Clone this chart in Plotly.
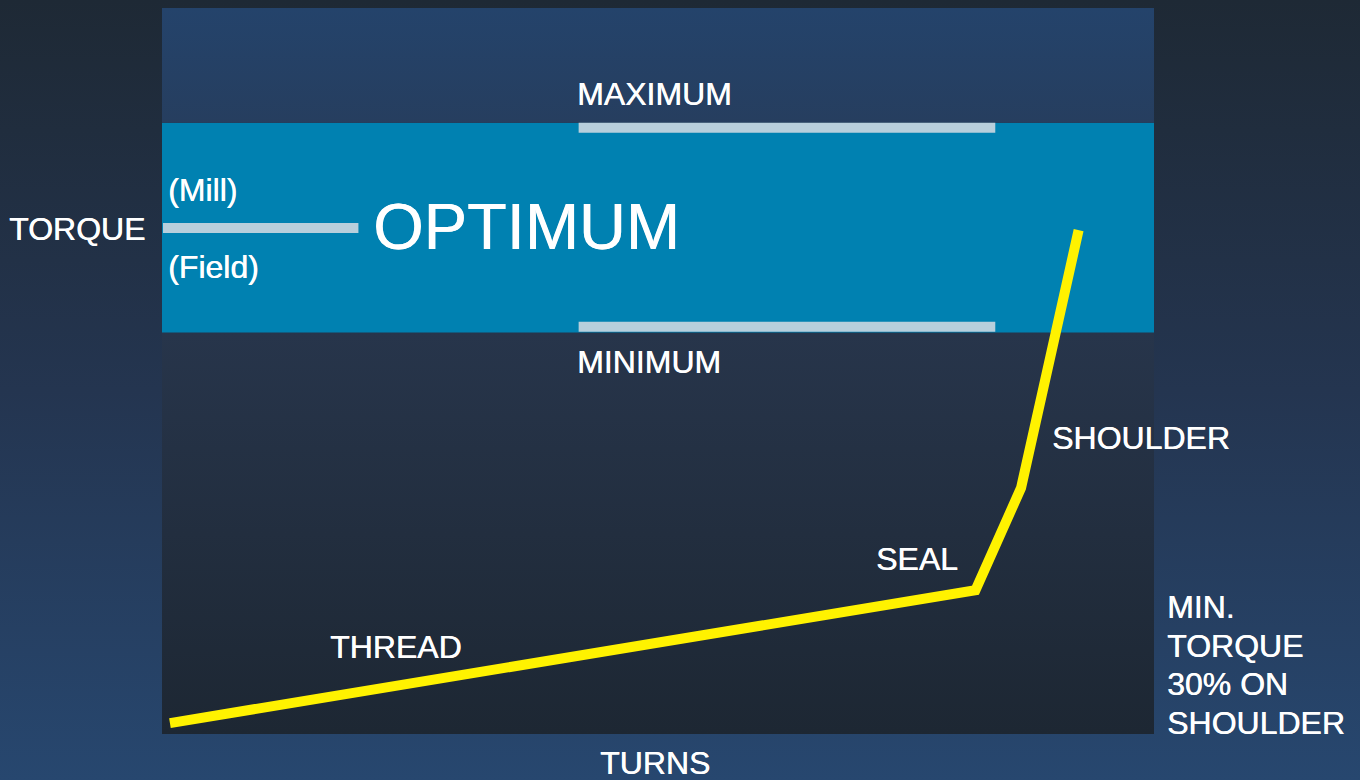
import plotly.graph_objects as go

# ---------------- data ----------------
# make-up curve (turns vs torque, both on a 0-100 scale)
turns = [0.8, 82.0, 86.6, 92.4]
torque = [1.5, 19.8, 33.9, 69.4]

# torque band limits
band_min = 55.3
band_max = 84.2
maximum_level = 83.5
minimum_level = 56.1
limit_turns = [42.0, 84.0]
field_torque = 69.7
field_turns = [0.1, 19.8]

labels_curve = ["THREAD", "SEAL", "SHOULDER"]
note_lines = ["MIN.", "TORQUE", "30% ON", "SHOULDER"]

# ---------------- layout helpers ----------------
W, H = 1360, 780
PLOT_L, PLOT_R, PLOT_T, PLOT_B = 162, 1154, 8, 734
FONT = "Liberation Sans, Arial, Helvetica, sans-serif"
SHADOW = "0.45px 0 0 #ffffff"


def px(x, y):
    return x / W, 1 - y / H


fig = go.Figure()

# page background gradient (full paper subplot)
fig.add_trace(go.Scatter(
    x=[0, 1, 1, 0, 0], y=[0, 0, 1, 1, 0], xaxis="x", yaxis="y",
    mode="lines", fill="toself", line=dict(width=0),
    fillgradient=dict(type="vertical",
                      colorscale=[[0, "#27476f"], [0.5, "#243550"], [1, "#1e2935"]]),
    hoverinfo="skip", showlegend=False))

# lower zone
fig.add_trace(go.Scatter(
    x=[0, 100, 100, 0, 0], y=[0, 0, band_min, band_min, 0], xaxis="x2", yaxis="y2",
    mode="lines", fill="toself", line=dict(width=0),
    fillgradient=dict(type="vertical",
                      colorscale=[[0, "#1d2733"], [1, "#27354b"]]),
    hoverinfo="skip", showlegend=False))

# optimum zone
fig.add_trace(go.Scatter(
    x=[0, 100, 100, 0, 0], y=[band_min, band_min, band_max, band_max, band_min],
    xaxis="x2", yaxis="y2",
    mode="lines", fill="toself", fillcolor="#0081b1", line=dict(width=0),
    hoverinfo="skip", showlegend=False))

# upper zone
fig.add_trace(go.Scatter(
    x=[0, 100, 100, 0, 0], y=[band_max, band_max, 100, 100, band_max],
    xaxis="x2", yaxis="y2",
    mode="lines", fill="toself", line=dict(width=0),
    fillgradient=dict(type="vertical",
                      colorscale=[[0, "#263e5f"], [1, "#24436b"]]),
    hoverinfo="skip", showlegend=False))

# limit lines
grey = "#b8cfdc"
fig.add_trace(go.Scatter(x=limit_turns, y=[maximum_level] * 2, xaxis="x2", yaxis="y2",
                         mode="lines", line=dict(color=grey, width=10),
                         hoverinfo="skip", showlegend=False))
fig.add_trace(go.Scatter(x=limit_turns, y=[minimum_level] * 2, xaxis="x2", yaxis="y2",
                         mode="lines", line=dict(color=grey, width=10),
                         hoverinfo="skip", showlegend=False))
fig.add_trace(go.Scatter(x=field_turns, y=[field_torque] * 2, xaxis="x2", yaxis="y2",
                         mode="lines", line=dict(color=grey, width=10),
                         hoverinfo="skip", showlegend=False))

# make-up curve
fig.add_trace(go.Scatter(x=turns, y=torque, xaxis="x2", yaxis="y2",
                         mode="lines", line=dict(color="#fff200", width=10),
                         hoverinfo="skip", showlegend=False))

# ---------------- annotations ----------------
def label(text, x, y, size=32, anchor="left"):
    ax, ay = px(x, y)
    fig.add_annotation(text=text, x=ax, y=ay, xref="paper", yref="paper",
                       xanchor=anchor, yanchor="middle", showarrow=False,
                       align="left",
                       font=dict(family=FONT, size=size, color="white", shadow=SHADOW))


label("MAXIMUM", 575, 94)
label("MINIMUM", 575, 362)
label("(Mill)", 166, 190)
label("(Field)", 166, 267)
label("TORQUE", 147, 229, anchor="right")
label("OPTIMUM", 371, 226, size=65)
label(labels_curve[0], 328, 647)
label(labels_curve[1], 874, 559)
label(labels_curve[2], 1050, 438)
label("TURNS", 598, 763)
for i, line in enumerate(note_lines):
    label(line, 1165, 607 + i * 38.5)

dom_x = [PLOT_L / W, PLOT_R / W]
dom_y = [1 - PLOT_B / H, 1 - PLOT_T / H]
hidden = dict(visible=False, fixedrange=True, showgrid=False, zeroline=False)

fig.update_layout(
    width=W, height=H,
    margin=dict(l=0, r=0, t=0, b=0),
    paper_bgcolor="#1f2a37", plot_bgcolor="rgba(0,0,0,0)",
    showlegend=False,
    xaxis=dict(domain=[0, 1], range=[0, 1], **hidden),
    yaxis=dict(domain=[0, 1], range=[0, 1], **hidden),
    xaxis2=dict(domain=dom_x, range=[0, 100], anchor="y2", **hidden),
    yaxis2=dict(domain=dom_y, range=[0, 100], anchor="x2", **hidden),
)

fig.write_html("out.html", config={"displayModeBar": False},
               post_script="document.body.style.margin='0';document.body.style.padding='0';"
                           "document.body.style.overflow='hidden';")
